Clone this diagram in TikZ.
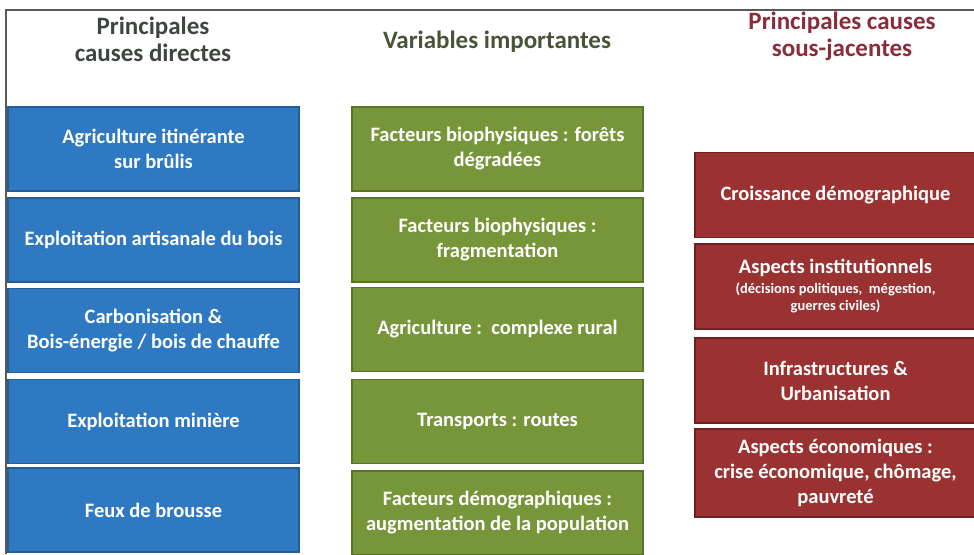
\documentclass[tikz,border=0pt]{standalone}
\usepackage{fontspec}
\setmainfont{Carlito}
\usetikzlibrary{positioning}

\definecolor{causeblue}{HTML}{2F79C2}
\definecolor{causeblueedge}{HTML}{245E99}
\definecolor{vargreen}{HTML}{77963A}
\definecolor{vargreenedge}{HTML}{5A7427}
\definecolor{sousred}{HTML}{9A3232}
\definecolor{sousrededge}{HTML}{6F2121}
\definecolor{titlegray}{HTML}{3F4640}
\definecolor{titleolive}{HTML}{4A5238}
\definecolor{titlered}{HTML}{8A2C3A}

\newcommand{\smalltxt}{\fontsize{14.5}{16}\selectfont\bfseries}

\tikzset{
  box/.style={draw,line width=1.2pt,align=center,text=white,
    font=\fontsize{20.5}{25}\selectfont\bfseries,inner sep=2pt},
  bluebox/.style={box,fill=causeblue,draw=causeblueedge,
    minimum width=291pt,minimum height=84pt},
  greenbox/.style={box,fill=vargreen,draw=vargreenedge,
    minimum width=291pt,minimum height=84pt},
  redbox/.style={box,fill=sousred,draw=sousrededge,
    minimum width=281pt,minimum height=85pt},
  coltitle/.style={align=center,font=\fontsize{25}{27}\selectfont\bfseries}
}

\begin{document}
\begin{tikzpicture}[x=1pt,y=-1pt]
\useasboundingbox (0,0) rectangle (974,554);
% frame
\draw[gray!70!black,line width=1.3pt] (6,554) -- (6,10) -- (974,10);

% titles
\node[coltitle,text=titlegray] (t1) at (153,39) {Principales\\causes directes};
\node[coltitle,text=titleolive] (t2) at (497,42) {Variables importantes};
\node[coltitle,text=titlered] (t3) at (842,36) {Principales causes\\sous-jacentes};

% causes directes
\node[bluebox] (d1) at (153.5,149) {Agriculture itinérante\\sur brûlis};
\node[bluebox] (d2) at (153.5,240) {Exploitation artisanale du bois};
\node[bluebox] (d3) at (153.5,330.5) {Carbonisation \&\\Bois-énergie / bois de chauffe};
\node[bluebox] (d4) at (153.5,421.5) {Exploitation minière};
\node[bluebox] (d5) at (153.5,510) {Feux de brousse};

% variables
\node[greenbox] (v1) at (497.5,149) {Facteurs biophysiques : forêts\\dégradées};
\node[greenbox] (v2) at (497.5,240) {Facteurs biophysiques :\\fragmentation};
\node[greenbox] (v3) at (497.5,329.5) {Agriculture :\ \ complexe rural};
\node[greenbox] (v4) at (497.5,421.5) {Transports : routes};
\node[greenbox] (v5) at (497.5,513) {Facteurs démographiques :\\augmentation de la population};

% causes sous-jacentes
\node[redbox] (s1) at (835.5,195) {Croissance démographique};
\node[redbox] (s2) at (835.5,286.5) {Aspects institutionnels\\[-5pt]\smalltxt
  (décisions politiques,\ \ mégestion,\\[-8pt]\smalltxt guerres civiles)};
\node[redbox] (s3) at (835.5,380.5) {Infrastructures \&\\Urbanisation};
\node[redbox,minimum height=88pt] (s4) at (835.5,473) {Aspects économiques :\\crise économique, chômage,\\pauvreté};
\end{tikzpicture}
\end{document}
